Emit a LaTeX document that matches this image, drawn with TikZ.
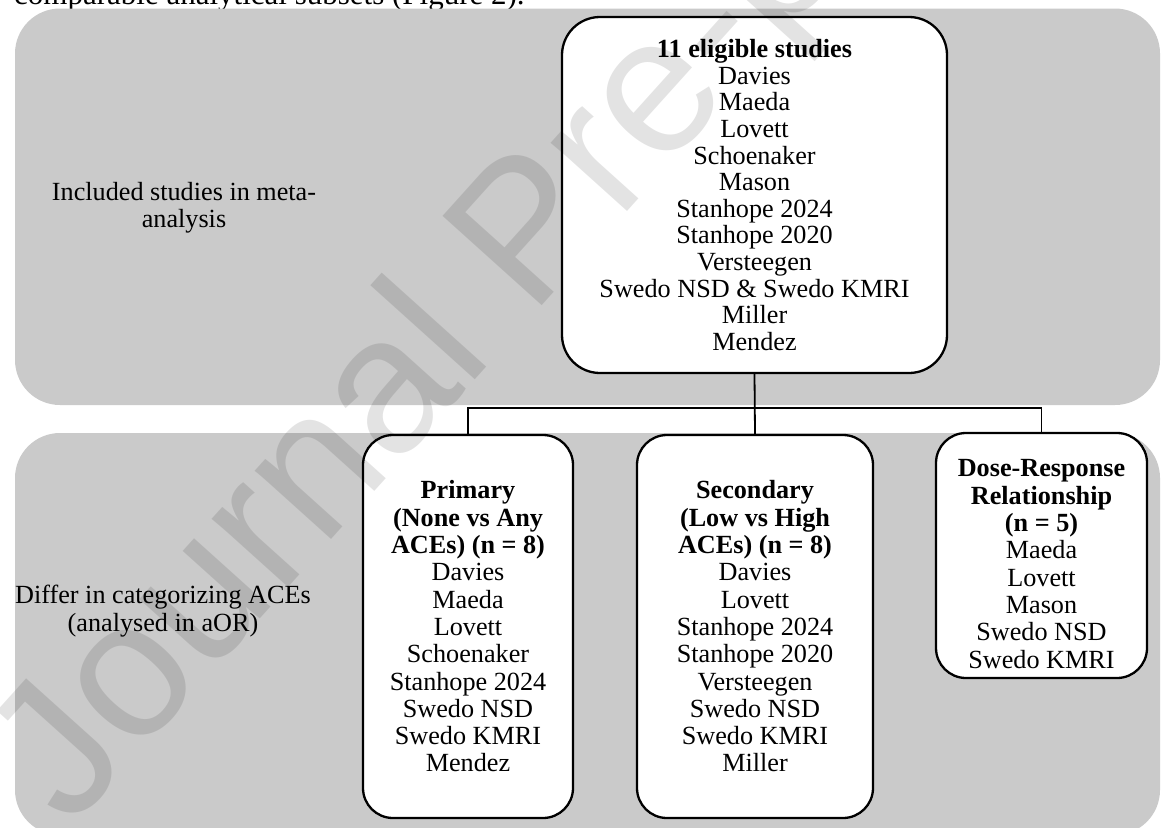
\documentclass[tikz,border=0pt]{standalone}
\usepackage{fontspec}
\setmainfont{Liberation Serif}
\setsansfont{Liberation Sans}
\definecolor{bandgray}{RGB}{202,202,202}
\newcommand\boxfont{\fontsize{26.2}{27.3}\selectfont}
\newcommand\topfont{\fontsize{26.2}{26.6}\selectfont}
\tikzset{
  band/.style={fill=bandgray, draw=none, rounded corners=45pt},
  bigbox/.style={draw=black, line width=2.3pt, fill=white, rounded corners=38pt, align=center, font=\topfont, inner sep=0pt},
  subbox/.style={draw=black, line width=2.3pt, fill=white, rounded corners=30pt, align=center, font=\boxfont, inner sep=0pt},
  boxtext/.style={align=center, font=\boxfont, inner sep=0pt},
  sidelabel/.style={align=center, font=\boxfont, inner sep=0pt},
  conn/.style={draw=black, line width=1.8pt},
  wmark/.style={font=\fontsize{194}{194}\sffamily\selectfont, text=black, opacity=0.11, inner sep=0pt}
}
\begin{document}
\begin{tikzpicture}[x=1pt,y=-1pt]
\useasboundingbox (0,0) rectangle (1161,827);
\clip (0,0) rectangle (1161,827);
\node[anchor=base west, font=\fontsize{31}{31}\selectfont, inner sep=0pt] (cuttext) at (14,4.5) {comparable analytical subsets (Figure 2).};
\fill[band] (15,8.5) rectangle (1160,405);
\fill[band] (15,433) rectangle (1160,835);

\node[sidelabel] (inclabel) at (184,208) {Included studies in meta-\\analysis};
\node[sidelabel] (difflabel) at (163,611) {Differ in categorizing ACEs\\(analysed in aOR)};

\node[bigbox, minimum width=385pt, minimum height=356pt] (all) at (754.5,195)
 {\textbf{11 eligible studies}\\Davies\\Maeda\\Lovett\\Schoenaker\\Mason\\Stanhope 2024\\Stanhope 2020\\Versteegen\\Swedo NSD \& Swedo KMRI\\Miller\\Mendez};

\node[subbox, minimum width=210pt, minimum height=383pt] (prim) at (468,626.5)
 {\textbf{Primary}\\\textbf{(None vs Any}\\\textbf{ACEs) (n = 8)}\\Davies\\Maeda\\Lovett\\Schoenaker\\Stanhope 2024\\Swedo NSD\\Swedo KMRI\\Mendez};

\node[subbox, minimum width=236pt, minimum height=383pt] (sec) at (755,626.5)
 {\textbf{Secondary}\\\textbf{(Low vs High}\\\textbf{ACEs) (n = 8)}\\Davies\\Lovett\\Stanhope 2024\\Stanhope 2020\\Versteegen\\Swedo NSD\\Swedo KMRI\\Miller};

\node[subbox, minimum width=211pt, minimum height=245pt] (dose) at (1041.5,555.5) {};
\node[boxtext] (dosetext) at (1041.5,564)
 {\textbf{Dose-Response}\\\textbf{Relationship}\\\textbf{(n = 5)}\\Maeda\\Lovett\\Mason\\Swedo NSD\\Swedo KMRI};

\coordinate (hub) at (754.5,408);
\draw[conn] (all.south) -- (sec.north);
\draw[conn] (prim.north) |- (hub) -| (dose.north);

\node[wmark, rotate=48, anchor=base west] (watermark) at (70,830) {Journal Pre-proof};
\end{tikzpicture}
\end{document}
